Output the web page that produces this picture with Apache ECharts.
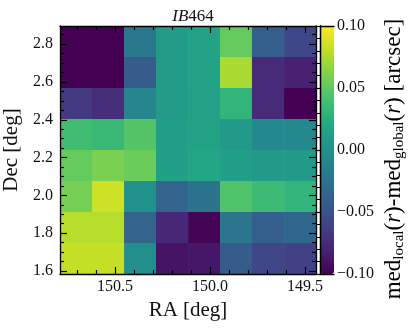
<!DOCTYPE html>
<html>
<head>
<meta charset="utf-8">
<script src="https://cdn.jsdelivr.net/npm/echarts@6.0.0/dist/echarts.min.js"></script>
<style>
  html, body { margin: 0; padding: 0; background: #fff; }
  #chart { width: 415px; height: 329px; }
</style>
</head>
<body>
<div id="chart"></div>
<script>
  // bin edges (RA goes right to left)
  var raEdges = [150.789, 150.621, 150.452, 150.284, 150.115, 149.947, 149.779, 149.610, 149.442];
  var decEdges = [2.896, 2.732, 2.568, 2.404, 2.240, 2.076, 1.912, 1.748, 1.584];

  // med_local - med_global per cell, rows from top (high Dec) to bottom
  var cellValues = [
    [-0.100, -0.100, -0.020,  0.010,  0.016,  0.052, -0.040, -0.058],
    [-0.100, -0.100, -0.042,  0.010,  0.015,  0.074, -0.076, -0.082],
    [-0.066, -0.074, -0.010,  0.010,  0.014,  0.030, -0.076, -0.100],
    [ 0.038,  0.034,  0.046,  0.012,  0.016,  0.008, -0.006, -0.006],
    [ 0.052,  0.060,  0.054,  0.012,  0.018,  0.012,  0.008,  0.008],
    [ 0.058,  0.085,  0.000, -0.036, -0.024,  0.044,  0.036,  0.030],
    [ 0.078,  0.078, -0.036, -0.078, -0.098, -0.022, -0.040, -0.034],
    [ 0.082,  0.082, -0.002, -0.090, -0.088, -0.042, -0.058, -0.062]
  ];

  var raMajor = [150.5, 150.0, 149.5];
  var raMinor = [150.7, 150.6, 150.4, 150.3, 150.2, 150.1, 149.9, 149.8, 149.7, 149.6];
  var decMajor = [1.6, 1.8, 2.0, 2.2, 2.4, 2.6, 2.8];
  var decMinor = [1.65, 1.7, 1.75, 1.85, 1.9, 1.95, 2.05, 2.1, 2.15, 2.25, 2.3, 2.35,
                  2.45, 2.5, 2.55, 2.65, 2.7, 2.75, 2.85];
  var cbarMin = -0.1, cbarMax = 0.1, cbarStep = 0.05;

  var viridis = ['#440154', '#482475', '#414487', '#355f8d', '#2a788e', '#21918c',
                 '#22a884', '#44bf70', '#7ad151', '#bddf26', '#fde725'];

  var serif = 'Liberation Serif';
  var ink = '#111';

  var cells = [];
  for (var r = 0; r < cellValues.length; r++) {
    for (var c = 0; c < cellValues[r].length; c++) {
      cells.push([raEdges[c], raEdges[c + 1], decEdges[r + 1], decEdges[r], cellValues[r][c]]);
    }
  }

  function renderCell(params, api) {
    var a = api.coord([api.value(0), api.value(3)]);
    var b = api.coord([api.value(1), api.value(2)]);
    return {
      type: 'rect',
      shape: {
        x: Math.min(a[0], b[0]),
        y: Math.min(a[1], b[1]),
        width: Math.abs(b[0] - a[0]) + 0.6,
        height: Math.abs(b[1] - a[1]) + 0.6
      },
      style: { fill: api.visual('color') }
    };
  }

  function tickAxis(opts) {
    var ax = {
      type: 'value',
      gridIndex: opts.grid,
      position: opts.position,
      min: opts.min,
      max: opts.max,
      inverse: !!opts.inverse,
      z: 10,
      splitLine: { show: false },
      axisLine: { show: !!opts.line, onZero: false, lineStyle: { color: '#000', width: 1.3 } },
      axisTick: {
        show: !!opts.ticks,
        inside: true,
        length: opts.len || 6,
        customValues: opts.ticks,
        lineStyle: { color: '#000', width: 1.2 }
      },
      axisLabel: { show: false }
    };
    if (opts.labels) {
      ax.axisLabel = {
        show: true,
        customValues: opts.labels,
        margin: opts.margin,
        fontFamily: serif,
        fontSize: 16,
        color: ink,
        formatter: function (v) { return v.toFixed(1); }
      };
    }
    if (opts.name) {
      ax.name = opts.name;
      ax.nameLocation = 'middle';
      ax.nameGap = opts.nameGap;
      ax.nameTextStyle = { fontFamily: serif, fontSize: 21, color: ink };
    }
    return ax;
  }

  var raMin = raEdges[raEdges.length - 1], raMax = raEdges[0];
  var decMin = decEdges[decEdges.length - 1], decMax = decEdges[0];
  var plotBox = { left: 60, top: 26, width: 256, height: 248, outerBoundsMode: 'none' };

  var chart = echarts.init(document.getElementById('chart'), null, { renderer: 'canvas' });

  var option = {
    backgroundColor: '#fff',
    animation: false,
    title: {
      text: '{i|IB}{n|464}',
      left: 188,
      top: 3,
      textAlign: 'center',
      textStyle: {
        fontWeight: 'normal',
        rich: {
          i: { fontFamily: serif, fontStyle: 'italic', fontWeight: 'normal', fontSize: 17, color: ink },
          n: { fontFamily: serif, fontWeight: 'normal', fontSize: 17, color: ink }
        }
      }
    },
    grid: [
      Object.assign({}, plotBox),
      Object.assign({}, plotBox),
      { left: 320, top: 26, width: 14, height: 248, outerBoundsMode: 'none' }
    ],
    xAxis: [
      tickAxis({ grid: 0, position: 'bottom', min: raMin, max: raMax, inverse: true, line: true,
                 ticks: raMajor, labels: raMajor, margin: 5, len: 7, name: 'RA [deg]', nameGap: 18 }),
      tickAxis({ grid: 0, position: 'top', min: raMin, max: raMax, inverse: true, line: true,
                 ticks: raMajor, len: 7 }),
      tickAxis({ grid: 1, position: 'bottom', min: raMin, max: raMax, inverse: true,
                 ticks: raMinor, len: 4 }),
      tickAxis({ grid: 1, position: 'top', min: raMin, max: raMax, inverse: true,
                 ticks: raMinor, len: 4 }),
      tickAxis({ grid: 2, position: 'bottom', min: 0, max: 1, line: true }),
      tickAxis({ grid: 2, position: 'top', min: 0, max: 1, line: true })
    ],
    yAxis: [
      tickAxis({ grid: 0, position: 'left', min: decMin, max: decMax, line: true,
                 ticks: decMajor, labels: decMajor, margin: 7, len: 7, name: 'Dec [deg]', nameGap: 30 }),
      tickAxis({ grid: 0, position: 'right', min: decMin, max: decMax, line: true,
                 ticks: decMajor, len: 7 }),
      tickAxis({ grid: 1, position: 'left', min: decMin, max: decMax, ticks: decMinor, len: 4 }),
      tickAxis({ grid: 1, position: 'right', min: decMin, max: decMax, ticks: decMinor, len: 4 }),
      tickAxis({ grid: 2, position: 'left', min: 0, max: 1, line: true }),
      {
        type: 'value',
        gridIndex: 2,
        position: 'right',
        min: cbarMin,
        max: cbarMax,
        interval: cbarStep,
        z: 10,
        splitLine: { show: false },
        axisLine: { show: true, lineStyle: { color: '#000', width: 1.3 } },
        axisTick: { show: true, inside: true, length: 5, lineStyle: { color: '#000', width: 1.2 } },
        minorTick: { show: true, splitNumber: 5, length: 3, lineStyle: { color: '#000', width: 1 } },
        axisLabel: {
          margin: 3,
          fontFamily: serif,
          fontSize: 16,
          color: ink,
          formatter: function (v) {
            if (Math.abs(v) < 1e-9) v = 0;
            return v.toFixed(2).replace('-', '\u2212');
          }
        }
      }
    ],
    visualMap: {
      type: 'continuous',
      seriesIndex: 0,
      dimension: 4,
      min: cbarMin,
      max: cbarMax,
      calculable: false,
      hoverLink: false,
      orient: 'vertical',
      left: 320,
      top: 26,
      padding: 0,
      itemWidth: 14,
      itemHeight: 248,
      text: null,
      showLabel: false,
      inRange: { color: viridis }
    },
    graphic: [{
      type: 'text',
      x: 394,
      y: 159,
      rotation: Math.PI / 2,
      style: {
        text: '{n|med}{s|local}{n|(}{i|r}{n|)-med}{s|global}{n|(}{i|r}{n|) [arcsec]}',
        align: 'center',
        verticalAlign: 'middle',
        rich: {
          n: { fontFamily: serif, fontSize: 23, color: ink, lineHeight: 25 },
          i: { fontFamily: serif, fontStyle: 'italic', fontSize: 23, color: ink, lineHeight: 25 },
          s: { fontFamily: serif, fontSize: 15, color: ink, lineHeight: 14, verticalAlign: 'bottom' }
        }
      }
    }],
    series: [{
      type: 'custom',
      xAxisIndex: 0,
      yAxisIndex: 0,
      renderItem: renderCell,
      clip: true,
      z: 1,
      encode: { x: [0, 1], y: [2, 3] },
      data: cells
    }]
  };

  chart.setOption(option);
</script>
</body>
</html>
